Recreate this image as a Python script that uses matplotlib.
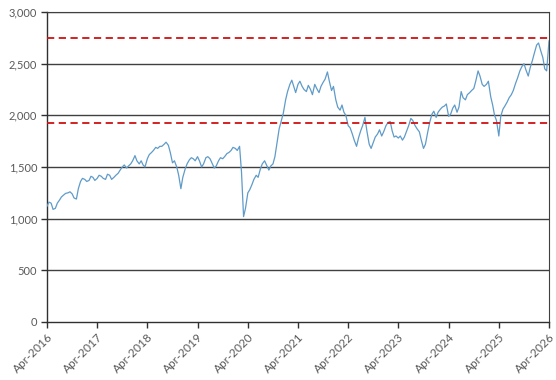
import matplotlib
matplotlib.use("Agg")
import matplotlib.pyplot as plt
import matplotlib.ticker as mticker
import matplotlib.transforms as mtrans
import pandas as pd

# semi-monthly readings (1st and 15th) from Apr-2016 to Apr-2026
values = [
    1120, 1160, 1150, 1090, 1100, 1150, 1180, 1210, 1230, 1245, 1250, 1260,
    1240, 1200, 1190, 1290, 1360, 1390, 1380, 1360, 1370, 1410, 1400, 1370,
    1390, 1420, 1410, 1390, 1380, 1430, 1420, 1380, 1400, 1420, 1440, 1470,
    1500, 1520, 1490, 1510, 1530, 1560, 1610, 1560, 1530, 1560, 1520, 1500,
    1580, 1620, 1640, 1660, 1690, 1680, 1700, 1700, 1720, 1740, 1710, 1640,
    1540, 1560, 1500, 1420, 1290, 1400, 1480, 1530, 1570, 1590, 1580, 1560,
    1600, 1560, 1500, 1530, 1590, 1600, 1580, 1540, 1490, 1510, 1560, 1590,
    1580, 1600, 1630, 1640, 1660, 1690, 1680, 1660, 1700, 1450, 1020, 1100,
    1250, 1280, 1330, 1380, 1420, 1400, 1480, 1530, 1560, 1520, 1470, 1510,
    1530, 1600, 1750, 1870, 1950, 2020, 2150, 2230, 2300, 2340, 2280, 2220,
    2300, 2330, 2280, 2250, 2230, 2290, 2250, 2200, 2300, 2260, 2220, 2280,
    2320, 2350, 2420, 2330, 2240, 2280, 2150, 2080, 2050, 2100, 2030, 2000,
    1900, 1880, 1820, 1760, 1700, 1780, 1850, 1900, 1980, 1850, 1720, 1680,
    1740, 1790, 1820, 1860, 1800, 1840, 1900, 1930, 1940, 1850, 1790, 1800,
    1780, 1800, 1760, 1790, 1850, 1900, 1970, 1950, 1900, 1870, 1840, 1760,
    1680, 1720, 1840, 1930, 2010, 2040, 1980, 2030, 2060, 2080, 2090, 2110,
    1990, 2010, 2070, 2100, 2030, 2080, 2230, 2170, 2150, 2200, 2220, 2240,
    2260, 2330, 2430, 2380, 2300, 2280, 2300, 2330, 2180, 2100, 2000, 1950,
    1800, 1990, 2060, 2090, 2130, 2170, 2200, 2240, 2310, 2360, 2430, 2470,
    2500, 2440, 2380, 2460, 2530, 2600, 2680, 2700, 2620, 2560, 2450, 2430,
    2720,
]
start_date = "2016-04-01"
upper_band = 2750
lower_band = 1925
y_ticks = [0, 500, 1000, 1500, 2000, 2500, 3000]
x_tick_years = list(range(2016, 2027))

dates = pd.date_range(start_date, periods=len(values), freq="SMS")

plt.rcParams['font.family'] = ['Lato', 'DejaVu Sans']
fig = plt.figure(figsize=(5.56, 3.80), dpi=100)
ax = fig.add_axes([47/556, 1-322/380, (549-47)/556, (322-12)/380])

for yv in y_ticks[1:]:
    ax.axhline(yv, color='#404040', lw=1.0, zorder=1)

ax.plot(dates, values, color='#5f9bc9', lw=0.9, zorder=3)
ax.axhline(upper_band, color='#d01010', lw=1.3, ls=(0, (4, 2.5)), zorder=4)
ax.axhline(lower_band, color='#d01010', lw=1.3, ls=(0, (4, 2.5)), zorder=4)

ax.set_ylim(0, 3000)
ax.set_xlim(pd.Timestamp("2016-04-01"), pd.Timestamp("2026-04-01"))
ax.set_yticks(y_ticks)
ax.yaxis.set_major_formatter(mticker.FuncFormatter(lambda v, p: f"{int(v):,}"))
xt = [pd.Timestamp(f"{y}-04-01") for y in x_tick_years]
ax.set_xticks(xt)
ax.set_xticklabels([f"Apr-{y}" for y in x_tick_years], rotation=45,
                   ha='right', rotation_mode='anchor')
offset = mtrans.ScaledTranslation(5/100, 0, fig.dpi_scale_trans)
for lab in ax.get_xticklabels():
    lab.set_transform(lab.get_transform() + offset)

for s in ['left', 'bottom']:
    ax.spines[s].set_color('#303030')
    ax.spines[s].set_linewidth(1.0)
ax.spines['right'].set_color('#404040')
ax.spines['top'].set_color('#404040')
ax.tick_params(axis='both', colors='#303030', labelcolor='#595959',
               length=4, width=1)
ax.tick_params(axis='y', pad=3, labelsize=8)
ax.tick_params(axis='x', pad=3, labelsize=8.5)

fig.savefig("out.png", dpi=100)
